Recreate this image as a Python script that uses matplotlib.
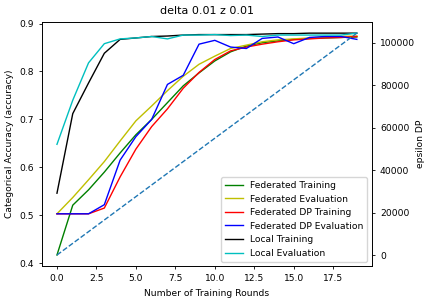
import numpy as np
import matplotlib as mpl
import matplotlib.pyplot as plt
mpl.rcParams['font.size'] = 6.6

# accuracy per training round
rounds = list(range(20))
fed_train = [0.417, 0.521, 0.553, 0.590, 0.630, 0.668, 0.700, 0.735, 0.770, 0.797,
             0.822, 0.841, 0.853, 0.860, 0.864, 0.867, 0.869, 0.870, 0.871, 0.872]
fed_eval = [0.503, 0.537, 0.574, 0.612, 0.655, 0.697, 0.728, 0.760, 0.790, 0.815,
            0.832, 0.848, 0.855, 0.862, 0.866, 0.868, 0.870, 0.872, 0.873, 0.874]
dp_train = [0.503, 0.503, 0.503, 0.515, 0.580, 0.638, 0.685, 0.722, 0.765, 0.798,
            0.825, 0.843, 0.851, 0.857, 0.862, 0.866, 0.868, 0.870, 0.871, 0.873]
dp_eval = [0.503, 0.503, 0.503, 0.522, 0.615, 0.664, 0.700, 0.773, 0.792, 0.857,
           0.865, 0.851, 0.848, 0.869, 0.872, 0.858, 0.871, 0.873, 0.873, 0.867]
local_train = [0.546, 0.712, 0.776, 0.838, 0.867, 0.870, 0.873, 0.874, 0.876, 0.877,
               0.877, 0.877, 0.877, 0.878, 0.879, 0.879, 0.880, 0.880, 0.880, 0.880]
local_eval = [0.648, 0.740, 0.818, 0.858, 0.868, 0.870, 0.873, 0.868, 0.876, 0.876,
              0.877, 0.875, 0.876, 0.873, 0.876, 0.876, 0.876, 0.876, 0.876, 0.880]
# privacy budget spent so far
epsilon = [0, 5500, 11000, 16500, 22000, 27500, 33000, 38500, 44000, 49500,
           55000, 60500, 66000, 71500, 77000, 82500, 88000, 93500, 99000, 104500]

fig, ax = plt.subplots(figsize=(4.24, 2.98), dpi=100)
fig.subplots_adjust(left=0.099, right=0.877, top=0.926, bottom=0.107)

lw = 1.0
ax.plot(rounds, fed_train, 'g', lw=lw, label='Federated Training')
ax.plot(rounds, fed_eval, 'y', lw=lw, label='Federated Evaluation')
ax.plot(rounds, dp_train, 'r', lw=lw, label='Federated DP Training')
ax.plot(rounds, dp_eval, 'b', lw=lw, label='Federated DP Evaluation')
ax.plot(rounds, local_train, 'k', lw=lw, label='Local Training')
ax.plot(rounds, local_eval, 'c', lw=lw, label='Local Evaluation')
ax.set_xlabel('Number of Training Rounds')
ax.set_ylabel('Categorical Accuracy (accuracy)')
ax.set_title('delta 0.01 z 0.01', fontsize=8)
ax.tick_params(length=2.3, width=0.6)
ax.legend(loc='lower right', fontsize=6.6)

ax2 = ax.twinx()
ax2.plot(rounds, epsilon, '--', color='C0', lw=lw)
ax2.set_ylabel('epsilon DP', labelpad=1)
ax2.tick_params(length=2.3, width=0.6)

for a in (ax, ax2):
    for s in a.spines.values():
        s.set_linewidth(0.6)

plt.savefig('out.png')
